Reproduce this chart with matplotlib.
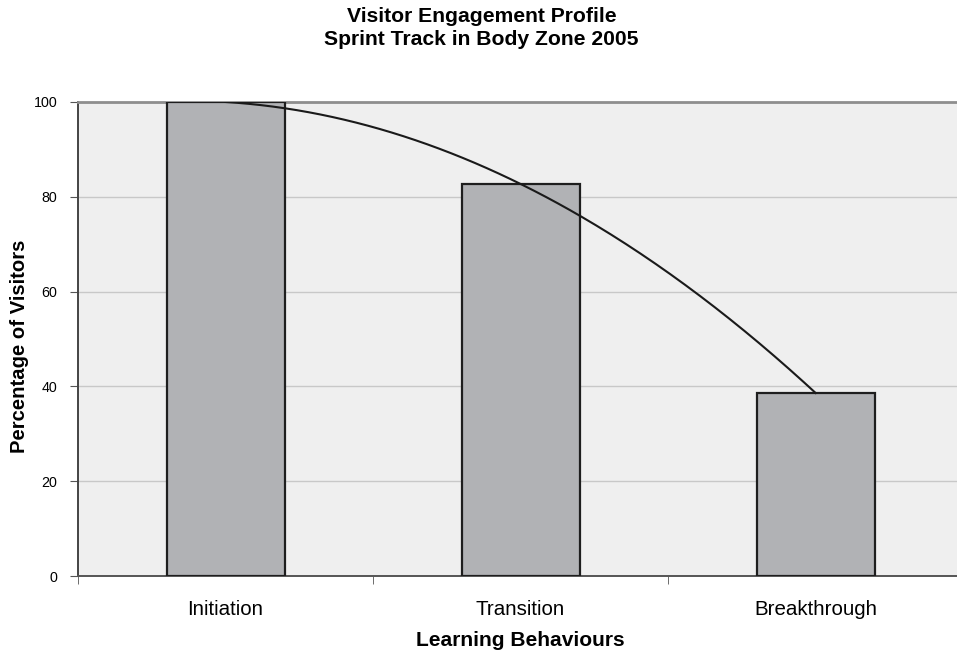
import numpy as np
import matplotlib.pyplot as plt

plt.rcParams['font.family'] = ['Liberation Sans', 'DejaVu Sans']

# Data
categories = ['Initiation', 'Transition', 'Breakthrough']
percent_visitors = [100.0, 82.7, 38.6]
y_ticks = [0, 20, 40, 60, 80, 100]

fig = plt.figure(figsize=(9.57, 6.55), dpi=100)
ax = fig.add_axes([0.0815, 0.1206, 0.925, 0.7237])
ax.set_facecolor('#efefef')

x = np.arange(len(categories))
ax.bar(x, percent_visitors, width=0.4, color='#b1b2b5', edgecolor='#1e1e1e',
       linewidth=1.6, zorder=3)

# smoothed trend line through the bar tops
coef = np.polyfit(x, percent_visitors, 2)
xs = np.linspace(x[0], x[-1], 200)
ax.plot(xs, np.polyval(coef, xs), color='#1a1a1a', linewidth=1.5, zorder=4)

ax.set_xlim(-0.5, 2.5)
ax.set_ylim(0, 100)
ax.set_yticks(y_ticks)
ax.set_yticklabels([str(t) for t in y_ticks], fontsize=10.3)
ax.yaxis.grid(True, color='#c8c8c8', linewidth=1.0, zorder=0)

ax.set_xticks(x)
ax.set_xticklabels(categories, fontsize=14.8)
ax.tick_params(axis='x', length=0, pad=17)
ax.set_xticks([-0.5, 0.5, 1.5, 2.5], minor=True)
ax.tick_params(axis='x', which='minor', length=6, color='#555555', direction='out')
ax.tick_params(axis='y', length=6, color='#555555', direction='out', pad=9)

ax.spines['right'].set_visible(False)
ax.spines['top'].set_color('#8e8e8e')
ax.spines['top'].set_linewidth(2.0)
ax.spines['left'].set_color('#444444')
ax.spines['left'].set_linewidth(1.4)
ax.spines['bottom'].set_color('#555555')
ax.spines['bottom'].set_linewidth(1.4)

ax.set_xlabel('Learning Behaviours', fontsize=15.1, fontweight='bold', labelpad=9)
fig.text(0.0199, 0.471, 'Percentage of Visitors', rotation=90, ha='center',
         va='center', fontsize=14.6, fontweight='bold')

fig.suptitle('Visitor Engagement Profile\nSprint Track in Body Zone 2005',
             x=0.503, y=0.99, fontsize=15.2, fontweight='bold', linespacing=1.3)

fig.savefig('out.png', dpi=100)
